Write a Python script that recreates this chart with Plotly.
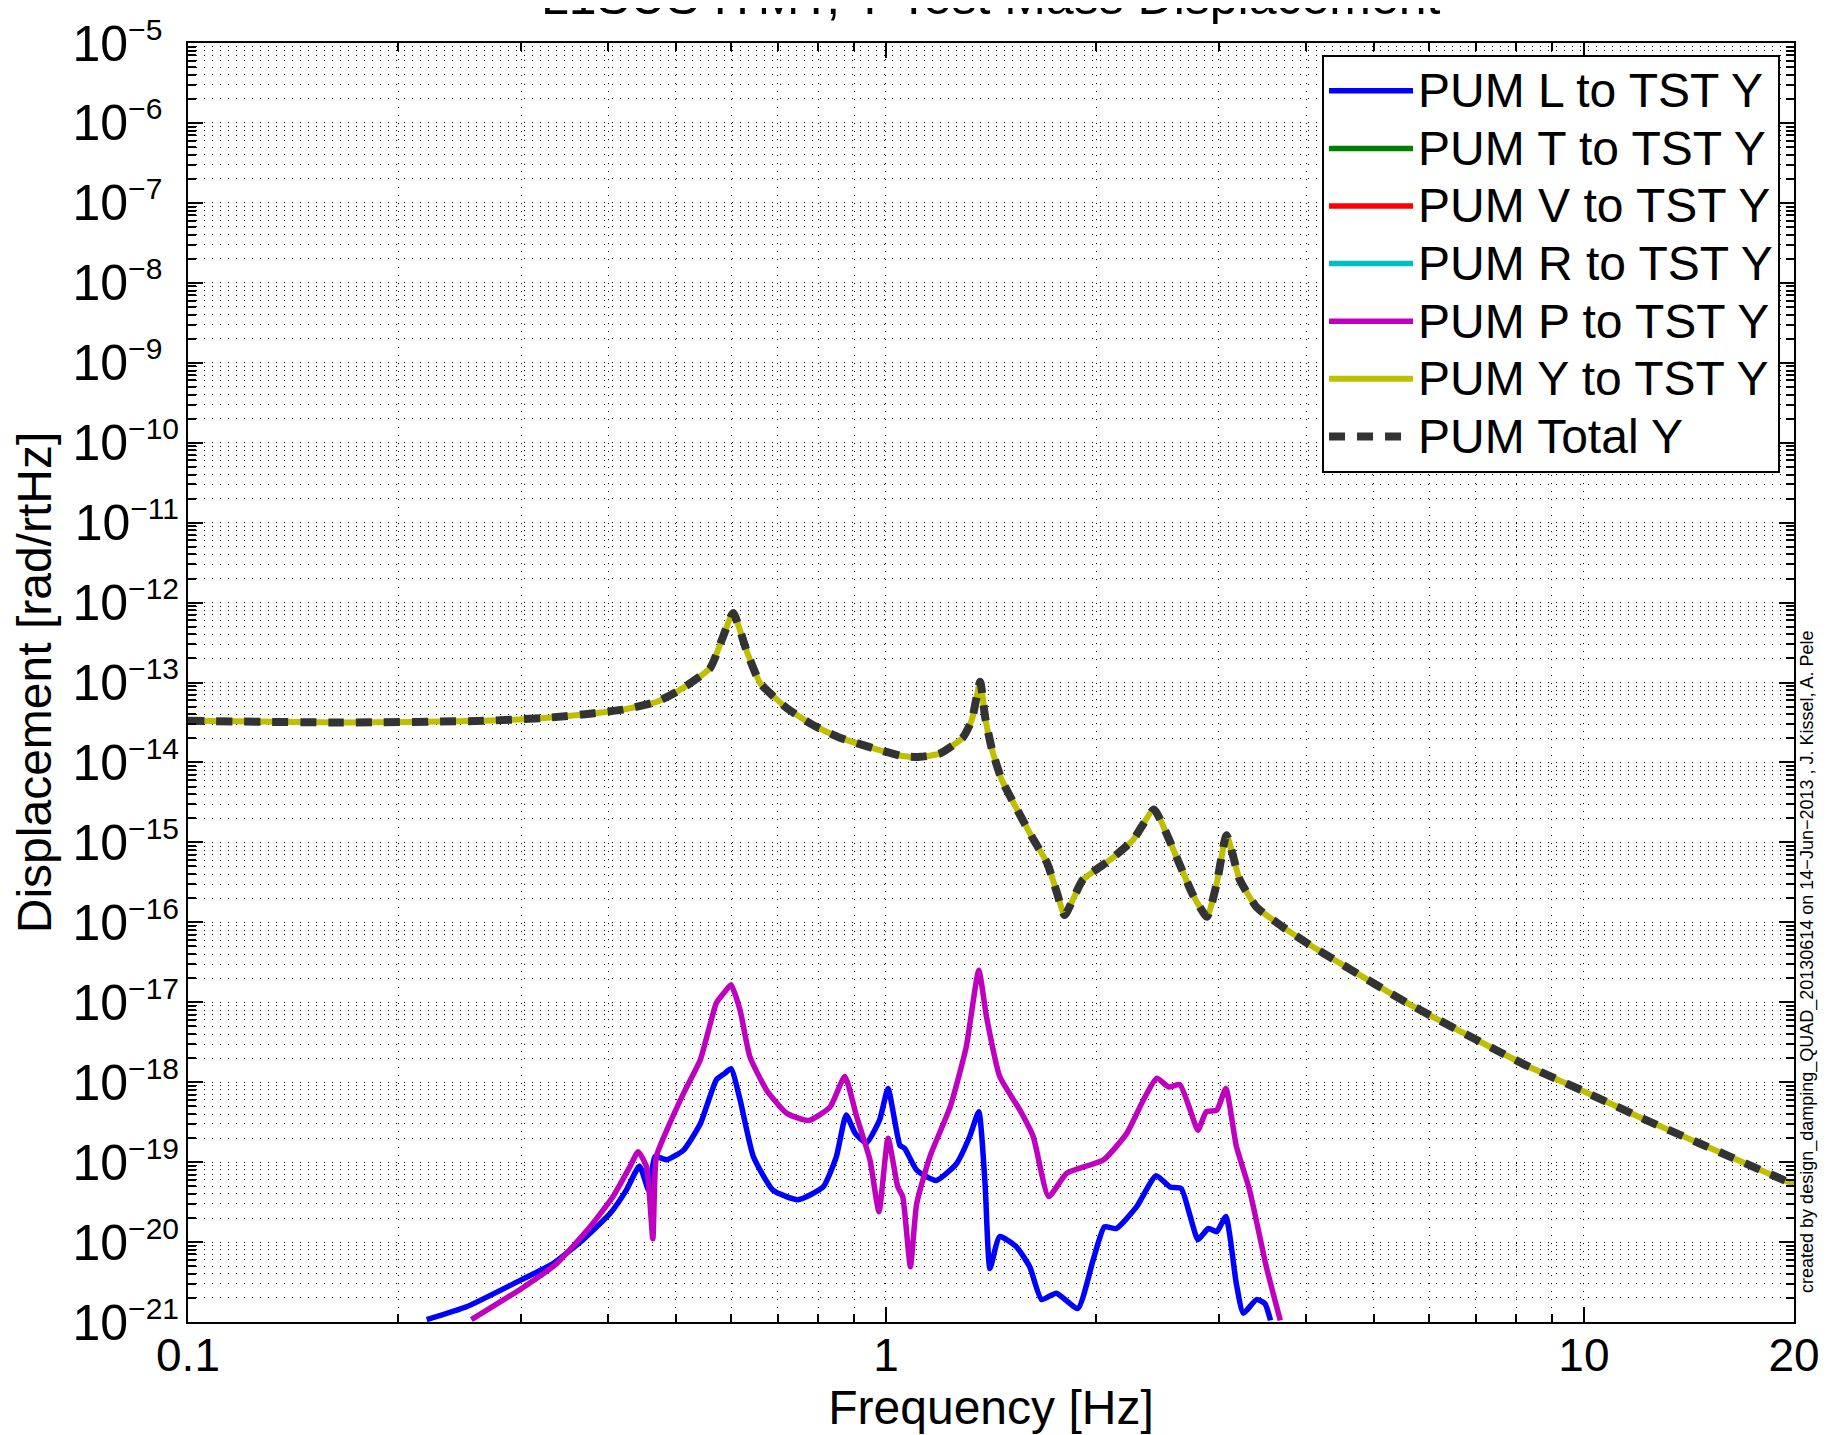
import numpy as np
import plotly.graph_objects as go

# values, stored as log10(frequency [Hz]) and log10(amplitude)
# PUM Y to TST Y (the dashed total sits on top of it)
yaw_logf = [-1.0, -0.78, -0.577, -0.484, -0.424, -0.377, -0.328, -0.291, -0.252, -0.234,
            -0.219, -0.199, -0.18, -0.142, -0.105, -0.066, -0.019, 0.024, 0.049, 0.077,
            0.110, 0.123, 0.135, 0.142, 0.152, 0.166, 0.188, 0.209, 0.231, 0.245,
            0.256, 0.282, 0.321, 0.354, 0.384, 0.403, 0.421, 0.44, 0.46, 0.474,
            0.488, 0.507, 0.531, 0.569, 0.607, 0.747, 0.915, 0.999, 1.083, 1.167, 1.301]
yaw_logy = [-13.48, -13.50, -13.48, -13.44, -13.39, -13.34, -13.24, -13.07, -12.82, -12.44,
            -12.13, -12.62, -13.01, -13.32, -13.53, -13.69, -13.82, -13.92, -13.93, -13.89,
            -13.69, -13.47, -12.99, -13.43, -13.84, -14.22, -14.59, -14.93, -15.26, -15.63,
            -15.91, -15.47, -15.22, -14.97, -14.59, -14.91, -15.28, -15.66, -15.93, -15.51,
            -14.91, -15.47, -15.81, -16.06, -16.28, -17.01, -17.78, -18.11, -18.45, -18.77, -19.28]

# PUM P to TST Y
pit_logf = [-0.594, -0.522, -0.472, -0.424, -0.391, -0.367, -0.355, -0.343, -0.334, -0.329,
            -0.314, -0.29, -0.266, -0.243, -0.231, -0.222, -0.209, -0.195, -0.171, -0.142,
            -0.111, -0.08, -0.059, -0.042, -0.023, -0.01, 0.003, 0.017, 0.024, 0.035,
            0.044, 0.063, 0.092, 0.115, 0.133, 0.144, 0.163, 0.192, 0.211, 0.233,
            0.259, 0.312, 0.345, 0.369, 0.388, 0.405, 0.421, 0.436, 0.447, 0.459,
            0.474, 0.487, 0.502, 0.521, 0.545, 0.565]
pit_logy = [-20.97, -20.58, -20.27, -19.81, -19.43, -19.06, -18.87, -19.06, -19.96, -18.93,
            -18.6, -18.14, -17.72, -17.01, -16.87, -16.78, -17.1, -17.68, -18.1, -18.39,
            -18.48, -18.31, -17.93, -18.43, -18.97, -19.62, -18.7, -19.31, -19.43, -20.31,
            -19.52, -18.93, -18.31, -17.56, -16.6, -17.18, -17.93, -18.35, -18.68, -19.43,
            -19.14, -18.97, -18.64, -18.22, -17.95, -18.06, -18.03, -18.35, -18.6, -18.37,
            -18.35, -18.08, -18.8, -19.35, -20.31, -20.98]

# PUM L to TST Y
lng_logf = [-0.658, -0.601, -0.522, -0.477, -0.434, -0.395, -0.372, -0.353, -0.340, -0.331,
            -0.314, -0.29, -0.266, -0.243, -0.231, -0.222, -0.209, -0.19, -0.162, -0.126,
            -0.09, -0.071, -0.057, -0.044, -0.028, -0.009, 0.003, 0.02, 0.027, 0.044,
            0.072, 0.101, 0.12, 0.133, 0.142, 0.149, 0.163, 0.187, 0.206, 0.223,
            0.244, 0.275, 0.297, 0.313, 0.33, 0.359, 0.387, 0.407, 0.423, 0.436,
            0.447, 0.462, 0.474, 0.487, 0.502, 0.512, 0.531, 0.543, 0.551]
lng_logy = [-20.97, -20.81, -20.47, -20.27, -19.97, -19.64, -19.35, -19.05, -19.35, -18.93,
            -18.97, -18.85, -18.52, -17.97, -17.89, -17.83, -18.22, -18.93, -19.35, -19.47,
            -19.31, -18.93, -18.41, -18.64, -18.76, -18.47, -18.08, -18.79, -18.83, -19.1,
            -19.23, -19.02, -18.68, -18.37, -19.27, -20.33, -19.93, -20.06, -20.31, -20.72,
            -20.64, -20.83, -20.22, -19.81, -19.83, -19.56, -19.17, -19.31, -19.33, -19.68,
            -19.97, -19.83, -19.87, -19.68, -20.52, -20.89, -20.72, -20.77, -20.98]

# T, V and R couplings never show up inside the plotted range
trn_logf, trn_logy = [None], [None]
ver_logf, ver_logy = [None], [None]
rol_logf, rol_logy = [None], [None]

series = [
    ("PUM L to TST Y", lng_logf, lng_logy, "#0000FF"),
    ("PUM T to TST Y", trn_logf, trn_logy, "#008000"),
    ("PUM V to TST Y", ver_logf, ver_logy, "#FF0000"),
    ("PUM R to TST Y", rol_logf, rol_logy, "#00BFBF"),
    ("PUM P to TST Y", pit_logf, pit_logy, "#BF00BF"),
    ("PUM Y to TST Y", yaw_logf, yaw_logy, "#BFBF00"),
]


def unlog(vals):
    return [None if v is None else 10.0 ** v for v in vals]


def legend_name(txt):
    # bigger glyphs than the legend row height would give
    return f"<span style='font-size:48px'>{txt}</span>"


fig = go.Figure()
for name, lf, ly, col in series:
    fig.add_trace(go.Scatter(
        x=unlog(lf), y=unlog(ly), mode='lines', name=legend_name(name),
        line=dict(color=col, width=6 if name.startswith("PUM Y") else 5.5,
                  shape='spline', smoothing=0.5),
    ))

# total is the same curve as the yaw term
fig.add_trace(go.Scatter(
    x=unlog(yaw_logf), y=unlog(yaw_logy), mode='lines', name=legend_name("PUM Total Y"),
    line=dict(color='#333333', width=8, dash='16px,12px', shape='spline', smoothing=0.5),
))

# ticks
x_major = [0.1, 1, 10, 20]
x_major_txt = ["0.1", "1", "10", "20"]
x_minor = [k * 10.0 ** e for e in (-1, 0, 1) for k in range(2, 10) if k * 10.0 ** e < 20]
y_exps = list(range(-21, -4))
y_major = [10.0 ** e for e in y_exps]
# figure space pads one-digit exponents so the "10" parts line up on the left
y_major_txt = [f"10<sup><span style='font-size:30px'>\u2212{-e}{'' if e <= -10 else chr(0x2007)}</span></sup>"
               for e in y_exps]
y_minor = [k * 10.0 ** e for e in range(-21, -5) for k in range(2, 10)]

grid = dict(gridcolor='#000000', gridwidth=1, griddash='1px,7px')

fig.update_xaxes(
    type='log', range=[-1, np.log10(20)],
    tickmode='array', tickvals=x_major, ticktext=x_major_txt,
    tickfont=dict(family='Liberation Sans, Arial', size=46, color='black'),
    ticks='inside', ticklen=15, tickwidth=1.5, tickcolor='black',
    ticklabelstandoff=-8,
    showline=True, linewidth=2, linecolor='black', mirror='ticks',
    showgrid=True, zeroline=False, **grid,
    minor=dict(tickmode='array', tickvals=x_minor, ticks='inside', ticklen=8,
               tickcolor='black', showgrid=True, **grid),
    title=dict(text='Frequency [Hz]', standoff=8,
               font=dict(family='Liberation Sans, Arial', size=48, color='black')),
)
fig.update_yaxes(
    type='log', range=[-21, -5],
    tickmode='array', tickvals=y_major, ticktext=y_major_txt,
    tickfont=dict(family='Liberation Sans, Arial', size=50, color='black'),
    ticks='inside', ticklen=15, tickwidth=1.5, tickcolor='black',
    ticklabelstandoff=-3,
    showline=True, linewidth=2, linecolor='black', mirror='ticks',
    showgrid=True, zeroline=False, **grid,
    minor=dict(tickmode='array', tickvals=y_minor, ticks='inside', ticklen=8,
               tickcolor='black', showgrid=True, **grid),
    title=dict(text='Displacement [rad/rtHz]', standoff=13,
               font=dict(family='Liberation Sans, Arial', size=48, color='black')),
)

# the page adds an 8px body margin, so the canvas is 8px smaller and shifted
fig.update_layout(
    width=1831, height=1427,
    margin=dict(l=180, r=45, t=35, b=113, autoexpand=False),
    plot_bgcolor='white', paper_bgcolor='white',
    font=dict(family='Liberation Sans, Arial', color='black'),
    legend=dict(x=0.9913, y=0.9906, xanchor='right', yanchor='top',
                bgcolor='white', bordercolor='black', borderwidth=2,
                font=dict(size=42, color='black'), itemwidth=84,
                tracegroupgap=0),
    showlegend=True,
)

# title partly above the page, as in the reference
fig.add_annotation(text="L1SUS ITMY, Y Test Mass Displacement",
                   xref='paper', yref='paper', x=0.5, y=1.0357,
                   xanchor='center', yanchor='middle', showarrow=False,
                   font=dict(size=50, color='black'))

fig.add_annotation(text="created by design_damping_QUAD_20130614 on 14\u2212Jun\u22122013 , J. Kissel, A. Pele",
                   xref='paper', yref='paper', x=1.0087, y=0.2815,
                   xanchor='center', yanchor='middle', textangle=-90, showarrow=False,
                   font=dict(size=18, color='black'))

fig.write_html("out.html")
